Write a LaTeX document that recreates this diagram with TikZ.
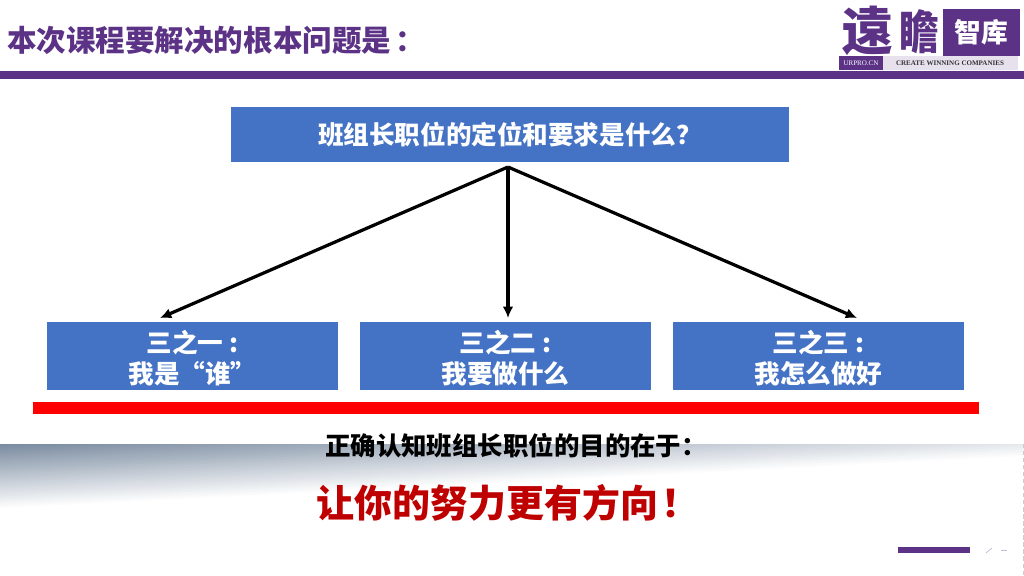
\documentclass[tikz,border=0pt]{standalone}
\usepackage{fontspec}
\usetikzlibrary{arrows.meta}
\setmainfont{Liberation Serif}
\newfontfamily\cjk{Noto Sans CJK SC}
\definecolor{urpurple}{HTML}{5B3285}
\definecolor{boxblue}{HTML}{4472C4}
\definecolor{slate}{HTML}{7B8CA1}
\newcommand\boxlift{\rule{0pt}{19pt}}
\tikzset{
  bluebox/.style={fill=boxblue, text=white, font=\cjk\bfseries\fontsize{18.2}{21.5}\selectfont, align=center, inner sep=0pt},
  fork/.style={-{Latex[length=8pt,width=7.5pt]}, line width=2.3pt},
}
\begin{document}
\begin{tikzpicture}[x=.025cm, y=-.025cm]
  \useasboundingbox (0,0) rectangle (1024,576);
  % fading band
  \begin{scope}
    \clip (0,444) rectangle (1024,520);
    \foreach \i in {0,...,40} {
      \pgfmathsetmacro\pct{100-2.5*\i}
      \fill[slate!\pct!white] (0,444+1.6*\i) -- (1024,392+1.6*\i) -- (1024,396+1.6*\i) -- (0,448+1.6*\i) -- cycle;
    }
  \end{scope}
  \draw[black!20, densely dashed, line width=.4pt] (1023.5,444) -- (1023.5,576);
  % head
  \node[anchor=west, text=urpurple, font=\cjk\bfseries\fontsize{21}{24}\selectfont, inner sep=0pt] (title) at (7,40) {本次课程要解决的根本问题是\kern3pt：};
  \fill[urpurple] (0,71) rectangle (1024,79);
  % logo
  \node[text=urpurple, font=\cjk\bfseries\fontsize{37}{37}\selectfont, inner sep=0pt] (yuan) at (868,31) {遠};
  \node[text=urpurple, font=\cjk\bfseries\fontsize{33}{33}\selectfont, inner sep=0pt, xscale=.85] (zhan) at (919,32) {瞻};
  \node[fill=urpurple, text=white, font=\cjk\bfseries\fontsize{19}{19}\selectfont, minimum width=55pt, minimum height=33.5pt, inner sep=0pt] (zhiku) at (981.5,32.5) {智库};
  \fill[urpurple!15] (883,56) rectangle (1018,70);
  \node[fill=urpurple, text=white, font=\fontsize{5}{5}\selectfont, minimum width=31.3pt, minimum height=10pt, inner sep=0pt] (urpro) at (861,63) {URPRO.CN};
  \node[text=black!80, font=\bfseries\fontsize{5}{5}\selectfont, inner sep=0pt] (slogan) at (950,63) {CREATE WINNING COMPANIES};
  % boxes
  \node[bluebox, minimum width=397pt, minimum height=39pt] (top) at (510,134.5) {班组长职位的定位和要求是什么？};
  \foreach \nm/\cx/\tipx/\txt in {one/192.5/160/{\boxlift 三之一 :\\我是“谁”}, two/505.5/508/{\boxlift 三之二 :\\我要做什么}, three/818.5/857/{\boxlift 三之三 :\\我怎么做好}} {
    \node[bluebox, minimum width=207pt, minimum height=48.5pt] (\nm) at (\cx,356) {\txt};
    \coordinate (tip\nm) at (\tipx,318);
  }
  \coordinate (apex) at (508,167);
  \foreach \nm in {one,two,three} {
    \draw[fork] (apex) -- (tip\nm);
  }
  \fill[red] (33,402) rectangle (979,414);
  % bottom text
  \node[font=\cjk\bfseries\fontsize{18.1}{21}\selectfont, inner sep=0pt] (aim) at (516,446) {正确认知班组长职位的目的在于：};
  \node[text=red!75!black, font=\cjk\bfseries\fontsize{27}{32}\selectfont, inner sep=0pt] (goal) at (508,503) {让你的努力更有方向\kern2pt！};
  % page mark
  \fill[urpurple] (898,547) rectangle (970,553);
  \coordinate (ticka) at (986,553);
  \coordinate (tickb) at (992,548);
  \coordinate (tickc) at (1001,550);
  \coordinate (tickd) at (1007,550);
  \draw[urpurple!35, line width=.5pt] (ticka) -- (tickb);
  \draw[urpurple!35, line width=.5pt] (tickc) -- (tickd);
\end{tikzpicture}
\end{document}
